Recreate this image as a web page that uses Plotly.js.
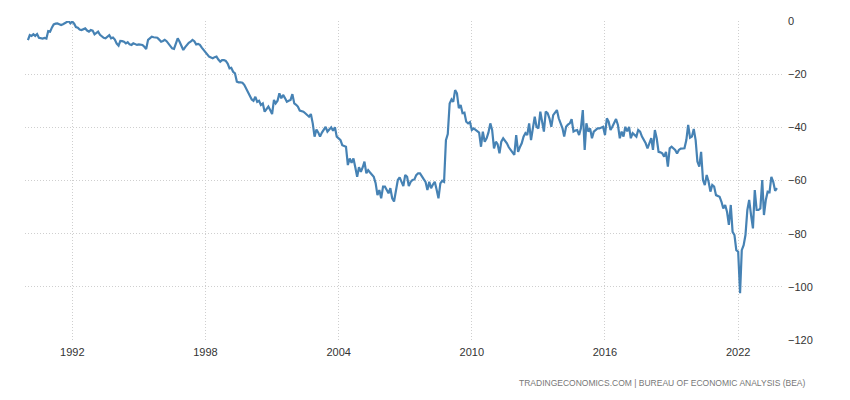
<!DOCTYPE html>
<html>
<head>
<meta charset="utf-8">
<script src="https://cdn.plot.ly/plotly-3.0.1.min.js"></script>
<style>
  html, body { margin: 0; padding: 0; background: #fff; }
  #plot { width: 850px; height: 400px; }
</style>
</head>
<body>
<div id="plot"></div>
<script>
// monthly balance of trade, USD billion, first month Jan 1990
var startYear = 1990;

var values1990s = [
  -7.2, -5.3, -5.6, -5.0, -5.6, -4.9, -6.3, -6.5, -6.6, -6.4, -6.6, -3.8,      // 1990
  -4.0, -2.4, -1.3, -1.0, -0.9, -1.2, -1.5, -1.2, -0.9, -0.6, 0.0, -0.9,       // 1991
  -0.2, -1.0, -2.3, -2.5, -3.2, -3.4, -3.0, -2.8, -3.6, -4.0, -3.4, -3.6,      // 1992
  -5.0, -4.5, -4.0, -5.2, -5.9, -6.3, -6.5, -5.8, -5.3, -6.5, -6.2, -7.0,      // 1993
  -8.5, -9.3, -7.5, -7.6, -7.8, -8.4, -8.0, -8.8, -9.0, -8.4, -8.6, -9.0,      // 1994
  -8.8, -8.8, -9.0, -9.7, -10.5, -7.1, -6.5, -5.9, -6.1, -6.3, -6.3, -7.0,     // 1995
  -7.8, -7.5, -7.1, -7.6, -8.4, -9.5, -10.3, -10.5, -8.0, -6.5, -7.8, -9.5,    // 1996
  -10.9, -9.8, -9.0, -8.2, -7.8, -7.1, -7.6, -8.8, -8.6, -9.0, -10.0, -10.9,   // 1997
  -11.8, -12.5, -13.4, -13.7, -14.0, -13.6, -13.4, -14.5, -15.3, -14.7, -14.7, -15.0, // 1998
  -16.0, -17.8, -17.6, -19.1, -19.7, -22.8, -23.1, -23.1, -23.2, -24.0, -25.3, -26.5  // 1999
];

var values2000s = [
  -27.8, -29.5, -30.0, -28.5, -30.4, -30.0, -31.6, -31.0, -34.1, -33.0, -32.2, -33.5, // 2000
  -35.0, -29.7, -31.0, -30.0, -27.2, -29.1, -27.8, -29.0, -30.4, -30.0, -29.7, -27.5, // 2001
  -31.0, -31.5, -32.2, -33.7, -33.8, -34.1, -34.7, -35.5, -36.0, -35.0, -38.5, -43.5, // 2002
  -40.8, -42.0, -43.5, -42.0, -41.0, -39.8, -41.6, -40.8, -40.0, -41.3, -40.0, -43.5, // 2003
  -44.1, -44.8, -46.7, -47.0, -47.3, -54.2, -51.7, -53.3, -51.7, -55.0, -58.6, -55.0, // 2004
  -56.7, -55.0, -52.9, -57.3, -56.1, -57.0, -57.9, -58.6, -61.0, -65.5, -63.6, -66.7, // 2005
  -62.3, -62.3, -63.5, -64.8, -62.9, -66.7, -67.9, -63.0, -59.8, -58.8, -60.5, -62.1, // 2006
  -57.9, -58.6, -62.1, -60.5, -59.8, -59.6, -58.0, -57.3, -57.3, -58.6, -59.5, -60.5, // 2007
  -63.6, -60.5, -62.9, -61.5, -60.5, -63.5, -66.7, -61.1, -60.1, -60.5, -44.8, -42.5, // 2008
  -31.0, -29.5, -30.4, -26.0, -27.2, -32.8, -31.6, -34.7, -34.5, -37.9, -38.5, -38.0  // 2009
];

var values2010s = [
  -41.0, -40.4, -41.0, -41.6, -42.0, -47.3, -41.6, -45.4, -44.1, -42.0, -38.5, -41.0, // 2010
  -47.9, -45.4, -46.3, -49.8, -45.4, -44.1, -45.0, -46.0, -47.5, -48.5, -49.8, -50.4, // 2011
  -42.9, -49.2, -47.5, -46.0, -43.5, -42.2, -42.9, -38.5, -44.8, -40.5, -36.0, -39.8, // 2012
  -40.4, -34.1, -37.2, -41.6, -34.1, -34.7, -36.6, -39.8, -35.4, -34.5, -33.5, -36.6, // 2013
  -38.5, -40.4, -43.5, -39.8, -39.0, -38.5, -36.9, -41.6, -41.2, -41.0, -42.9, -40.4, // 2014
  -33.5, -48.5, -38.5, -41.6, -40.4, -44.1, -41.6, -41.0, -40.4, -40.4, -40.0, -39.8, // 2015
  -42.9, -36.6, -37.9, -41.0, -39.8, -38.5, -36.9, -39.1, -44.1, -41.6, -43.5, -39.8, // 2016
  -41.5, -39.8, -44.1, -42.2, -43.0, -43.5, -41.0, -41.6, -43.5, -44.8, -46.0, -47.9, // 2017
  -46.0, -44.1, -48.5, -41.0, -44.1, -49.2, -49.4, -49.8, -51.0, -49.2, -54.8, -47.9, // 2018
  -47.3, -47.8, -48.5, -49.8, -48.5, -48.0, -47.9, -47.9, -44.8, -39.1, -43.9, -43.5  // 2019
];

var values2020s = [
  -40.6, -44.8, -52.9, -54.8, -49.2, -59.8, -61.7, -57.9, -60.5, -64.2, -61.7, -62.3, // 2020
  -65.5, -65.7, -66.1, -68.0, -70.5, -69.2, -71.7, -76.7, -69.2, -79.3, -80.5, -86.2, // 2021
  -86.8, -102.4, -86.2, -84.3, -80.5, -71.1, -67.3, -73.0, -78.0, -63.6, -71.1, -71.1, // 2022
  -70.5, -59.8, -73.0, -67.3, -64.2, -64.4, -58.6, -60.5, -63.9, -62.9                 // 2023
];

var tickYears = ['1992', '1998', '2004', '2010', '2016', '2022'];
var yTicks = [0, -20, -40, -60, -80, -100, -120];
var sourceText = 'TRADINGECONOMICS.COM | BUREAU OF ECONOMIC ANALYSIS (BEA)';

var values = values1990s.concat(values2000s, values2010s, values2020s);
var dates = values.map(function(v, i) {
  var y = startYear + Math.floor(i / 12);
  var m = (i % 12) + 1;
  return y + '-' + (m < 10 ? '0' + m : m) + '-01';
});

var trace = {
  type: 'scatter',
  mode: 'lines',
  x: dates,
  y: values,
  line: {color: '#4682b4', width: 2.2},
  hoverinfo: 'x+y'
};

var gridStyle = {
  showgrid: true,
  gridcolor: '#cfcfcf',
  griddash: '1px,2px',
  gridwidth: 1,
  zeroline: false,
  showline: false,
  ticks: ''
};

var layout = {
  width: 850,
  height: 400,
  margin: {l: 25, r: 66, t: 21, b: 60},
  paper_bgcolor: '#fff',
  plot_bgcolor: '#fff',
  showlegend: false,
  font: {family: 'Liberation Sans, Arial, sans-serif', size: 11, color: '#333'},
  xaxis: Object.assign({
    type: 'date',
    range: ['1989-11-14', '2024-01-25'],
    tickvals: tickYears.map(function(y) { return y + '-01-01'; }),
    ticktext: tickYears,
    ticklabelstandoff: 4,
    tickfont: {size: 11, color: '#333'}
  }, gridStyle),
  yaxis: Object.assign({
    side: 'right',
    range: [-120, 0],
    tickvals: yTicks,
    ticklabelstandoff: 3,
    tickfont: {size: 11, color: '#333'}
  }, gridStyle),
  annotations: [{
    text: sourceText,
    xref: 'paper', yref: 'paper',
    x: 1.0316, y: -0.135,
    xanchor: 'right', yanchor: 'middle',
    showarrow: false,
    font: {size: 8.5, color: '#777'}
  }]
};

Plotly.newPlot('plot', [trace], layout, {displayModeBar: false, staticPlot: true});
</script>
</body>
</html>
